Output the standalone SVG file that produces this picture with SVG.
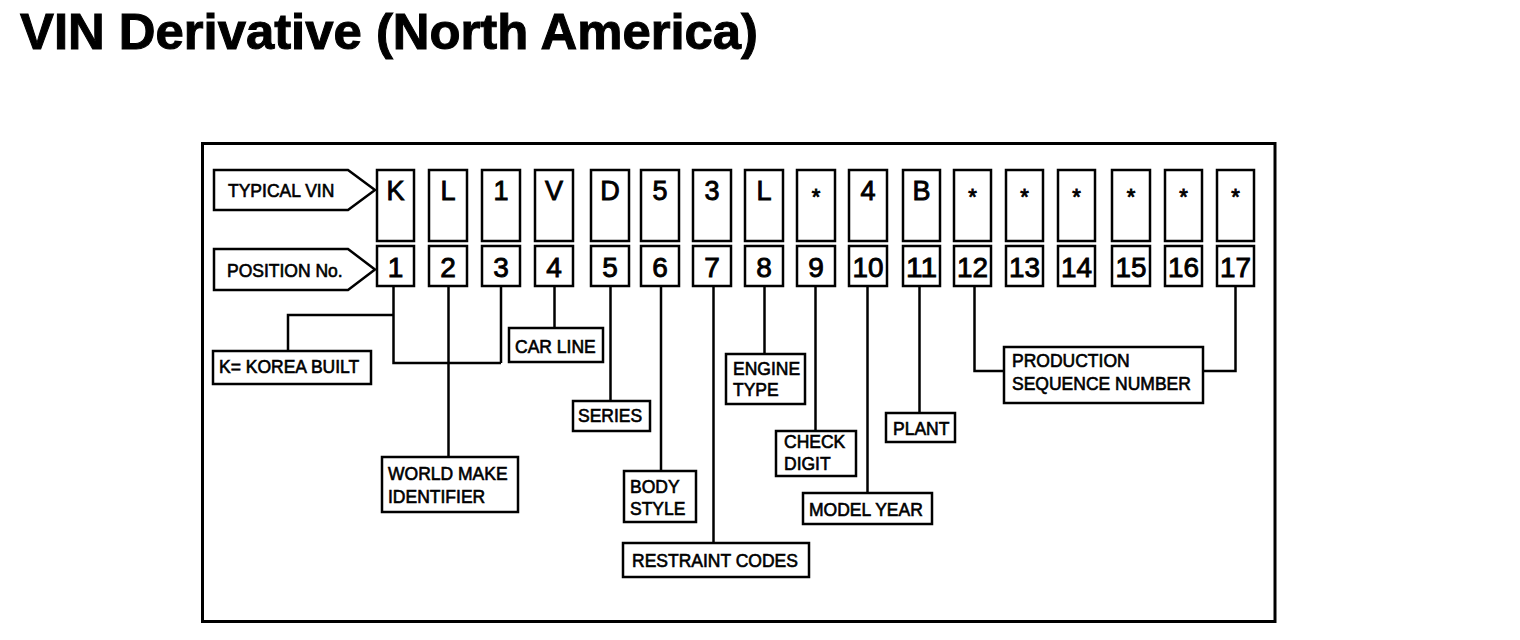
<svg xmlns="http://www.w3.org/2000/svg" width="1520" height="640" viewBox="0 0 1520 640">
<style>
.frame{fill:none;stroke:#000;stroke-width:3}
.box{fill:#fff;stroke:#000;stroke-width:2.5}
.conn{fill:none;stroke:#000;stroke-width:2.5}
.lbl{font-family:"Liberation Sans",Arial,sans-serif;font-size:17.5px;fill:#000;stroke:#000;stroke-width:0.6}
.ch{font-family:"Liberation Sans",Arial,sans-serif;font-size:27px;fill:#000;stroke:#000;stroke-width:0.9;text-anchor:middle}
.ast{font-family:"Liberation Sans",Arial,sans-serif;font-size:22px;fill:#000;stroke:#000;stroke-width:0.9;text-anchor:middle}
.num{font-family:"Liberation Sans",Arial,sans-serif;font-size:28px;fill:#000;stroke:#000;stroke-width:0.9;text-anchor:middle}
.title{font-family:"Liberation Sans",Arial,sans-serif;font-size:50px;font-weight:bold;fill:#000;stroke:#000;stroke-width:1}
</style>
<rect width="1520" height="640" fill="#fff"/>
<text class="title" x="20" y="49" textLength="738" lengthAdjust="spacingAndGlyphs">VIN Derivative (North America)</text>
<rect class="frame" x="202.5" y="143.5" width="1072.5" height="478"/>

<g id="connectors">
<path class="conn" d="M393.5,286 V363 H501 M501,286 V363 M393.5,315 H288 V351"/>
<path class="conn" d="M448.5,286 V457"/>
<path class="conn" d="M554.5,286 V328"/>
<path class="conn" d="M610.5,286 V401"/>
<path class="conn" d="M661,286 V471"/>
<path class="conn" d="M713.5,286 V543"/>
<path class="conn" d="M764.5,286 V354"/>
<path class="conn" d="M815.5,286 V431"/>
<path class="conn" d="M867.5,286 V493"/>
<path class="conn" d="M919.5,286 V413"/>
<path class="conn" d="M974.5,286 V371 H1004"/>
<path class="conn" d="M1235.5,286 V371 H1203"/>
</g>

<g id="typical-vin-label">
<polygon class="box" points="214,170 348,170 375,190 348,210 214,210"/>
<text class="lbl" x="228" y="197" font-size="17">TYPICAL VIN</text>
</g>
<g id="position-label">
<polygon class="box" points="214,249 348,249 375,269.5 348,290 214,290"/>
<text class="lbl" x="227" y="277" font-size="17">POSITION No.</text>
</g>

<g id="pos1"><rect class="box" x="377" y="170" width="37" height="71"/><text class="ch" x="395.5" y="200">K</text><rect class="box" x="377" y="246" width="37" height="40"/><text class="num" x="395.5" y="277">1</text></g>
<g id="pos2"><rect class="box" x="429" y="170" width="38" height="71"/><text class="ch" x="448" y="200">L</text><rect class="box" x="429" y="246" width="38" height="40"/><text class="num" x="448" y="277">2</text></g>
<g id="pos3"><rect class="box" x="482" y="170" width="38" height="71"/><text class="ch" x="501" y="200">1</text><rect class="box" x="482" y="246" width="38" height="40"/><text class="num" x="501" y="277">3</text></g>
<g id="pos4"><rect class="box" x="535" y="170" width="38" height="71"/><text class="ch" x="554" y="200">V</text><rect class="box" x="535" y="246" width="38" height="40"/><text class="num" x="554" y="277">4</text></g>
<g id="pos5"><rect class="box" x="591" y="170" width="38" height="71"/><text class="ch" x="610" y="200">D</text><rect class="box" x="591" y="246" width="38" height="40"/><text class="num" x="610" y="277">5</text></g>
<g id="pos6"><rect class="box" x="641" y="170" width="38" height="71"/><text class="ch" x="660" y="200">5</text><rect class="box" x="641" y="246" width="38" height="40"/><text class="num" x="660" y="277">6</text></g>
<g id="pos7"><rect class="box" x="693" y="170" width="38" height="71"/><text class="ch" x="712" y="200">3</text><rect class="box" x="693" y="246" width="38" height="40"/><text class="num" x="712" y="277">7</text></g>
<g id="pos8"><rect class="box" x="745" y="170" width="38" height="71"/><text class="ch" x="764" y="200">L</text><rect class="box" x="745" y="246" width="38" height="40"/><text class="num" x="764" y="277">8</text></g>
<g id="pos9"><rect class="box" x="797" y="170" width="38" height="71"/><text class="ast" x="816" y="204">*</text><rect class="box" x="797" y="246" width="38" height="40"/><text class="num" x="816" y="277">9</text></g>
<g id="pos10"><rect class="box" x="849" y="170" width="38" height="71"/><text class="ch" x="868" y="200">4</text><rect class="box" x="849" y="246" width="38" height="40"/><text class="num" x="868" y="277" textLength="31" lengthAdjust="spacingAndGlyphs">10</text></g>
<g id="pos11"><rect class="box" x="903" y="170" width="37" height="71"/><text class="ch" x="921.5" y="200">B</text><rect class="box" x="903" y="246" width="37" height="40"/><text class="num" x="921.5" y="277" textLength="31" lengthAdjust="spacingAndGlyphs">11</text></g>
<g id="pos12"><rect class="box" x="954" y="170" width="37" height="71"/><text class="ast" x="972.5" y="204">*</text><rect class="box" x="954" y="246" width="37" height="40"/><text class="num" x="972.5" y="277" textLength="31" lengthAdjust="spacingAndGlyphs">12</text></g>
<g id="pos13"><rect class="box" x="1006" y="170" width="37" height="71"/><text class="ast" x="1024.5" y="204">*</text><rect class="box" x="1006" y="246" width="37" height="40"/><text class="num" x="1024.5" y="277" textLength="31" lengthAdjust="spacingAndGlyphs">13</text></g>
<g id="pos14"><rect class="box" x="1058" y="170" width="37" height="71"/><text class="ast" x="1076.5" y="204">*</text><rect class="box" x="1058" y="246" width="37" height="40"/><text class="num" x="1076.5" y="277" textLength="31" lengthAdjust="spacingAndGlyphs">14</text></g>
<g id="pos15"><rect class="box" x="1112" y="170" width="38" height="71"/><text class="ast" x="1131" y="204">*</text><rect class="box" x="1112" y="246" width="38" height="40"/><text class="num" x="1131" y="277" textLength="31" lengthAdjust="spacingAndGlyphs">15</text></g>
<g id="pos16"><rect class="box" x="1165" y="170" width="37" height="71"/><text class="ast" x="1183.5" y="204">*</text><rect class="box" x="1165" y="246" width="37" height="40"/><text class="num" x="1183.5" y="277" textLength="31" lengthAdjust="spacingAndGlyphs">16</text></g>
<g id="pos17"><rect class="box" x="1217" y="170" width="37" height="71"/><text class="ast" x="1235.5" y="204">*</text><rect class="box" x="1217" y="246" width="37" height="40"/><text class="num" x="1235.5" y="277" textLength="31" lengthAdjust="spacingAndGlyphs">17</text></g>

<g id="korea-built"><rect class="box" x="213" y="351" width="158" height="33"/><text class="lbl" x="219" y="373">K= KOREA BUILT</text></g>
<g id="world-make"><rect class="box" x="382" y="457" width="136" height="55"/><text class="lbl" x="388" y="480">WORLD MAKE</text><text class="lbl" x="388" y="503">IDENTIFIER</text></g>
<g id="car-line"><rect class="box" x="509" y="328" width="94" height="34"/><text class="lbl" x="515" y="353">CAR LINE</text></g>
<g id="series"><rect class="box" x="573" y="401" width="77" height="30"/><text class="lbl" x="578" y="422">SERIES</text></g>
<g id="body-style"><rect class="box" x="624" y="471" width="72" height="51"/><text class="lbl" x="630" y="493">BODY</text><text class="lbl" x="630" y="515">STYLE</text></g>
<g id="restraint-codes"><rect class="box" x="623" y="543" width="186" height="34"/><text class="lbl" x="632" y="567">RESTRAINT CODES</text></g>
<g id="engine-type"><rect class="box" x="726" y="354" width="79" height="50"/><text class="lbl" x="733" y="375">ENGINE</text><text class="lbl" x="733" y="396">TYPE</text></g>
<g id="check-digit"><rect class="box" x="776" y="431" width="80" height="45"/><text class="lbl" x="784" y="448">CHECK</text><text class="lbl" x="784" y="470">DIGIT</text></g>
<g id="model-year"><rect class="box" x="803" y="493" width="129" height="31"/><text class="lbl" x="809" y="516">MODEL YEAR</text></g>
<g id="plant"><rect class="box" x="886" y="413" width="69" height="29"/><text class="lbl" x="893" y="435">PLANT</text></g>
<g id="production-seq"><rect class="box" x="1004" y="347" width="199" height="56"/><text class="lbl" x="1012" y="367">PRODUCTION</text><text class="lbl" x="1012" y="390">SEQUENCE NUMBER</text></g>
</svg>
